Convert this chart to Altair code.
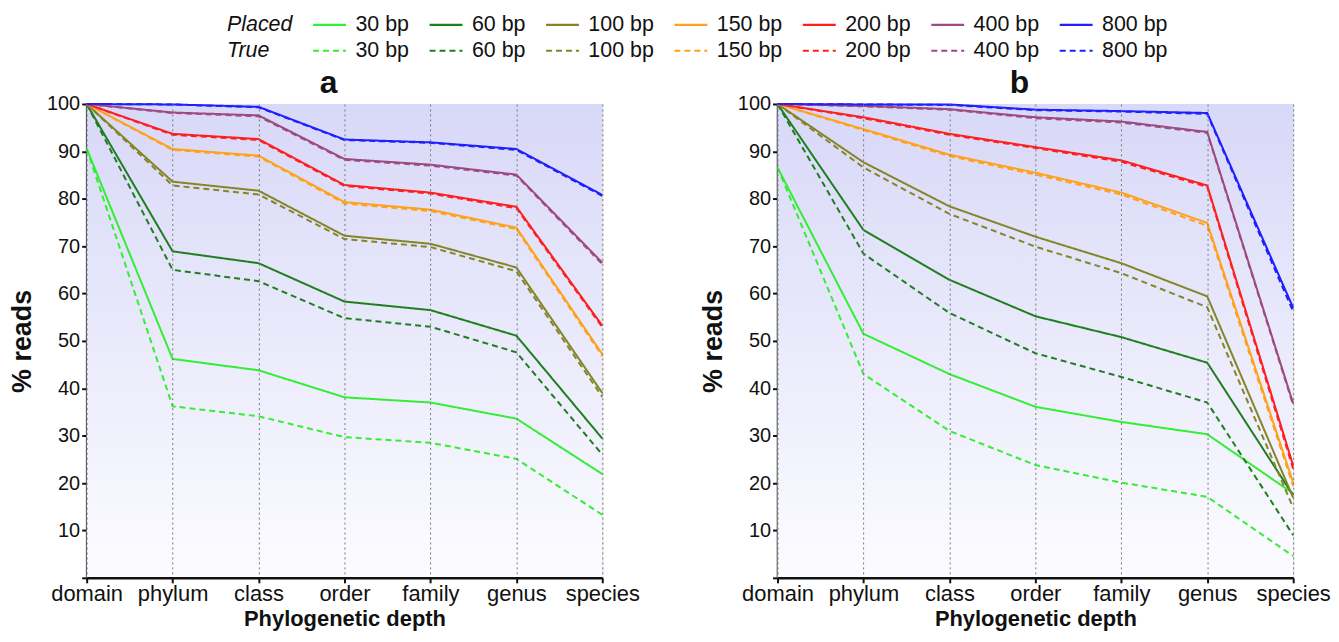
import altair as alt
import pandas as pd

DEPTHS = ["domain", "phylum", "class", "order", "family", "genus", "species"]
LENGTHS = ["30 bp", "60 bp", "100 bp", "150 bp", "200 bp", "400 bp", "800 bp"]
COLORS = ["#33ee33", "#1f7f1f", "#858528", "#ffa11a", "#ff1f1f", "#9c4a80", "#1f1fff"]
KINDS = ["Placed", "True"]
PANELS = ["a", "b"]

# Panel a – placed
A_PLACED_30 = [90.6, 46.2, 43.8, 38.1, 37.0, 33.6, 21.9]
A_PLACED_60 = [100, 68.9, 66.4, 58.3, 56.5, 51.1, 29.4]
A_PLACED_100 = [100, 83.6, 81.7, 72.2, 70.5, 65.5, 39.0]
A_PLACED_150 = [100, 90.5, 89.1, 79.3, 77.7, 73.9, 47.2]
A_PLACED_200 = [100, 93.7, 92.6, 82.9, 81.3, 78.3, 53.2]
A_PLACED_400 = [100, 98.2, 97.6, 88.4, 87.2, 85.1, 66.5]
A_PLACED_800 = [100, 99.9, 99.4, 92.5, 91.9, 90.5, 80.8]
# Panel a – true
A_TRUE_30 = [90.6, 36.2, 34.1, 29.7, 28.5, 25.1, 13.3]
A_TRUE_60 = [100, 65.0, 62.6, 54.8, 53.0, 47.6, 26.0]
A_TRUE_100 = [100, 82.8, 80.9, 71.5, 69.8, 64.7, 38.2]
A_TRUE_150 = [100, 90.3, 88.9, 79.0, 77.4, 73.6, 46.8]
A_TRUE_200 = [100, 93.5, 92.4, 82.7, 81.1, 78.0, 52.9]
A_TRUE_400 = [100, 98.1, 97.4, 88.2, 87.0, 84.9, 66.2]
A_TRUE_800 = [100, 99.9, 99.3, 92.4, 91.8, 90.3, 80.6]
# Panel b – placed
B_PLACED_30 = [86.6, 51.5, 43.0, 36.1, 32.9, 30.3, 17.8]
B_PLACED_60 = [100, 73.4, 62.9, 55.2, 50.8, 45.4, 17.4]
B_PLACED_100 = [100, 87.7, 78.4, 72.0, 66.4, 59.4, 16.9]
B_PLACED_150 = [100, 94.7, 89.3, 85.5, 81.3, 74.9, 20.1]
B_PLACED_200 = [100, 97.2, 93.7, 90.9, 88.1, 82.8, 23.7]
B_PLACED_400 = [100, 99.6, 98.9, 97.2, 96.3, 94.1, 36.8]
B_PLACED_800 = [100, 99.9, 99.9, 98.8, 98.5, 98.1, 57.0]
# Panel b – true
B_TRUE_30 = [86.6, 43.0, 31.0, 23.8, 20.1, 17.1, 4.6]
B_TRUE_60 = [100, 68.4, 55.9, 47.4, 42.4, 37.0, 9.0]
B_TRUE_100 = [100, 86.6, 76.8, 69.9, 64.3, 57.1, 14.8]
B_TRUE_150 = [100, 94.5, 89.0, 85.1, 80.9, 74.3, 19.4]
B_TRUE_200 = [100, 97.0, 93.5, 90.7, 87.8, 82.5, 23.0]
B_TRUE_400 = [100, 99.5, 98.8, 97.0, 96.1, 93.9, 36.5]
B_TRUE_800 = [100, 99.9, 99.8, 98.7, 98.4, 97.9, 56.2]

SERIES = {
    ("a", "Placed"): [A_PLACED_30, A_PLACED_60, A_PLACED_100, A_PLACED_150, A_PLACED_200, A_PLACED_400, A_PLACED_800],
    ("a", "True"): [A_TRUE_30, A_TRUE_60, A_TRUE_100, A_TRUE_150, A_TRUE_200, A_TRUE_400, A_TRUE_800],
    ("b", "Placed"): [B_PLACED_30, B_PLACED_60, B_PLACED_100, B_PLACED_150, B_PLACED_200, B_PLACED_400, B_PLACED_800],
    ("b", "True"): [B_TRUE_30, B_TRUE_60, B_TRUE_100, B_TRUE_150, B_TRUE_200, B_TRUE_400, B_TRUE_800],
}

rows = []
for (panel, kind), lists in SERIES.items():
    for length, vals in zip(LENGTHS, lists):
        for depth, v in zip(DEPTHS, vals):
            rows.append({"panel": panel, "kind": kind, "length": length,
                         "key": f"{kind} {length}", "depth": depth, "value": v})
df = pd.DataFrame(rows)

KEYS, KEY_COLORS, KEY_DASHES = [], [], []
for kind in KINDS:
    KEYS.append(kind)
    KEY_COLORS.append("transparent")
    KEY_DASHES.append([1, 0])
    for length, c in zip(LENGTHS, COLORS):
        KEYS.append(f"{kind} {length}")
        KEY_COLORS.append(c)
        KEY_DASHES.append([1, 0] if kind == "Placed" else [6, 4])

FONT = "Liberation Sans"
NB = "\u00a0"

legend = alt.Legend(
    title=None, orient="none", legendX=99.5, legendY=-95, padding=0,
    columns=8, direction="horizontal",
    symbolType="M-1.18,0H1.18", symbolSize=784, symbolStrokeWidth=2.2,
    labelFontSize=21.5, labelFont=FONT, labelColor="#111", labelOffset=10.5,
    columnPadding=15, rowPadding=0,
    labelExpr=f"datum.label == 'True' ? '{NB*3}True' : (indexof(datum.label, ' ') > 0 ? substring(datum.label, indexof(datum.label, ' ') + 1) : datum.label)",
    labelFontStyle=alt.ExprRef("datum.value == 'Placed' || datum.value == 'True' ? 'italic' : 'normal'"),
)

GRAD = alt.LinearGradient(gradient="linear", x1=0, x2=0, y1=0, y2=1,
                          stops=[alt.GradientStop(color="#d8d8f8", offset=0),
                                 alt.GradientStop(color="#fcfcff", offset=1)])

X_AXIS = alt.Axis(title="Phylogenetic depth", labelAngle=0, labelFontSize=22,
                  labelFont=FONT, labelColor="#111", labelPadding=1,
                  titleFontSize=22, titleFont=FONT, titleFontWeight="bold",
                  titleColor="#111", titlePadding=4,
                  tickSize=5, tickWidth=2, tickColor="#111",
                  domainColor="#111", domainWidth=2.5,
                  grid=True, gridDash=[2, 3], gridColor="#777", gridWidth=1)
Y_AXIS = alt.Axis(title="% reads", values=list(range(0, 101, 10)),
                  labelExpr="datum.value == 0 ? '' : datum.label",
                  labelFontSize=20, labelFont=FONT, labelColor="#111", labelPadding=2,
                  titleFontSize=27, titleFont=FONT, titleFontWeight="bold",
                  titleColor="#111", titlePadding=10,
                  tickSize=5, tickWidth=2, tickColor="#111",
                  domainColor="#111", domainWidth=2.5,
                  grid=True, gridDash=[2, 3], gridColor="#777", gridWidth=1)
X_SCALE = alt.Scale(type="point", padding=0, domain=DEPTHS)
Y_SCALE = alt.Scale(domain=[0, 100], nice=False)


def panel_chart(panel):
    d = df[df["panel"] == panel]
    bg = alt.Chart(pd.DataFrame({"lo": [0], "hi": [100]})).mark_rect(fill=GRAD).encode(
        x=alt.datum(DEPTHS[0], type="nominal", scale=X_SCALE, axis=X_AXIS),
        x2=alt.datum(DEPTHS[-1]),
        y=alt.Y("hi:Q", scale=Y_SCALE, axis=Y_AXIS),
        y2="lo:Q",
    )
    lines = alt.Chart(d).mark_line(strokeWidth=2).encode(
        x=alt.X("depth:N", sort=DEPTHS, scale=X_SCALE, axis=X_AXIS),
        y=alt.Y("value:Q", scale=Y_SCALE, axis=Y_AXIS),
        color=alt.Color("key:N", scale=alt.Scale(domain=KEYS, range=KEY_COLORS), legend=legend),
        strokeDash=alt.StrokeDash("key:N", scale=alt.Scale(domain=KEYS, range=KEY_DASHES), legend=legend),
        order=alt.Order("kind:N"),
    )
    return alt.layer(bg, lines).properties(
        width=518, height=476,
        title=alt.TitleParams(panel, fontSize=32, font=FONT, fontWeight="bold", color="#111",
                              offset=-6, dx=-16),
    )


chart = alt.hconcat(panel_chart("a"), panel_chart("b"), spacing=59).properties(
    padding={"left": 0, "top": 0, "right": 0, "bottom": 0}
).configure_view(strokeWidth=0).configure(background="white")

chart.save("out.html", embed_options={"renderer": "svg", "actions": False})
